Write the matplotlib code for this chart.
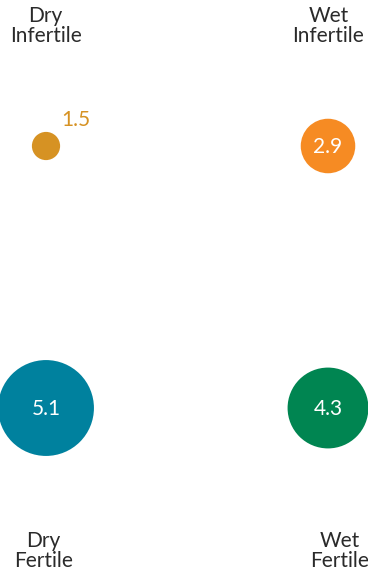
import matplotlib
matplotlib.use("Agg")
import matplotlib.pyplot as plt
from matplotlib.patches import Circle

# Data
categories = ["Dry\nInfertile", "Wet\nInfertile", "Dry\nFertile", "Wet\nFertile"]
values = [1.5, 2.9, 5.1, 4.3]
colors = ["#D69223", "#F68B23", "#00819E", "#008551"]

# Layout (pixel space)
W, H = 368, 574
col_x = [46, 328, 46, 328]
row_y = [146, 146, 408, 408]
label_x = [45.5, 328.5, 43.5, 340]
label_y = [25.5, 25.5, 551, 551]
px_per_unit = 9.4

plt.rcParams['font.family'] = ['Lato', 'DejaVu Sans']
fig = plt.figure(figsize=(W / 100, H / 100), dpi=100)
ax = fig.add_axes([0, 0, 1, 1])
ax.set_xlim(0, W)
ax.set_ylim(H, 0)
ax.set_aspect('equal')
ax.axis('off')

for cat, v, c, x, y, lx, ly in zip(categories, values, colors, col_x, row_y, label_x, label_y):
    r = v * px_per_unit
    ax.add_patch(Circle((x, y), r, facecolor=c, edgecolor='none'))
    if r > 20:
        ax.text(x, y + 1, f"{v}", color='white', ha='center', va='center', fontsize=15)
    else:
        ax.text(x + r + 1, y - r - 6, f"{v}", color=c, ha='left', va='baseline', fontsize=15)
    ax.text(lx, ly, cat, color='#2a2a2a', ha='center', va='center', fontsize=15,
            linespacing=1.0)

fig.savefig("out.png", dpi=100)
